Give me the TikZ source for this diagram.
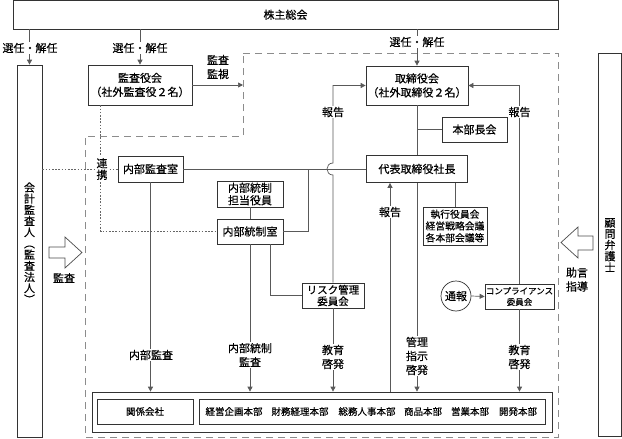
\documentclass[tikz,border=0pt]{standalone}
\usepackage{fontspec}
\setmainfont{Noto Sans CJK JP}[FakeBold=0.35]
\usetikzlibrary{arrows.meta}
\begin{document}
\begin{tikzpicture}[x=1pt,y=-1pt,
  box/.style={draw=black!80, line width=0.7pt, fill=white, inner sep=0pt, align=center, font=\fontsize{11}{14}\selectfont},
  conn/.style={draw=black!65, line width=0.7pt},
  arr/.style={conn, -{Triangle[length=5pt,width=5pt]}},
  dotl/.style={draw=black!60, line width=0.7pt, dash pattern=on 1.6pt off 1.6pt},
  lab/.style={fill=white, inner sep=1pt, align=center, font=\fontsize{11}{14}\selectfont},
  vtext/.style={inner sep=0pt, align=center, font=\fontsize{11}{11.2}\selectfont},
  small/.style={inner sep=0pt, font=\fontsize{9.5}{11}\selectfont},
  blockarrow/.style={draw=black!70, line width=0.7pt, fill=white}
]
\useasboundingbox (0,0) rectangle (622,439);

% dashed company boundary
\draw[draw=black!45, line width=0.9pt, dash pattern=on 7pt off 5pt]
  (243,53) -- (558,53) -- (558,437) -- (85,437) -- (85,136) -- (243,136) -- cycle;

% nodes
\node[box, minimum width=545pt, minimum height=28.5pt] (kabu) at (285.5,14.75) {株主総会};
\node[box, minimum width=25pt, minimum height=372pt] (kaikei) at (29.5,251) {};
\node[vtext] (kaikeit) at (29.5,243) {会\\計\\監\\査\\人\\︵\\監\\査\\法\\人\\︶};
\node[box, minimum width=104pt, minimum height=40pt] (kansayaku) at (140,85) {監査役会\\（社外監査役２名）};
\node[box, minimum width=102pt, minimum height=39pt] (tori) at (417,85.5) {取締役会\\（社外取締役２名）};
\node[box, minimum width=65pt, minimum height=25pt] (honbucho) at (474.5,129.5) {本部長会};
\node[box, minimum width=101pt, minimum height=27pt] (shacho) at (417,169) {代表取締役社長};
\node[box, minimum width=65pt, minimum height=26pt] (naibukansa) at (150.5,169) {内部監査室};
\node[box, minimum width=66pt, minimum height=26pt, font=\fontsize{11}{12.5}\selectfont] (tantou) at (250,194) {内部統制\\担当役員};
\node[box, minimum width=66pt, minimum height=25pt] (toseishitsu) at (250,231.5) {内部統制室};
\node[box, minimum width=62pt, minimum height=25pt, font=\fontsize{10.5}{11.5}\selectfont] (risk) at (333,295.5) {リスク管理\\委員会};
\node[box, minimum width=64pt, minimum height=38pt, font=\fontsize{9.8}{11.8}\selectfont] (shikko) at (455,226) {執行役員会\\経営戦略会議\\各本部会議等};
\node[draw=black!80, line width=0.7pt, fill=white, circle, minimum size=30pt, inner sep=0pt, font=\fontsize{11}{14}\selectfont] (tsuho) at (456,296) {通報};
\node[box, minimum width=69pt, minimum height=25pt, font=\fontsize{8.5}{11}\selectfont] (comp) at (519.5,296.5) {コンプライアンス\\委員会};
\node[box, minimum width=460pt, minimum height=40pt] (bottom) at (322,412) {};
\node[box, minimum width=96pt, minimum height=25pt] (kankei) at (145,411.5) {};
\node[small] (kankeit) at (145,411.5) {関係会社};
\node[box, minimum width=346pt, minimum height=25pt] (honbu) at (372,411.5) {};
\node[small] (h1) at (234,411.5) {経営企画本部};
\node[small] (h2) at (300,411.5) {財務経理本部};
\node[small] (h3) at (367,411.5) {総務人事本部};
\node[small] (h4) at (423,411.5) {商品本部};
\node[small] (h5) at (470,411.5) {営業本部};
\node[small] (h6) at (518,411.5) {開発本部};
\node[box, minimum width=23.5pt, minimum height=383pt] (komon) at (609.75,244.5) {};
\node[vtext] (komont) at (610,245) {顧\\問\\弁\\護\\士};

% block arrows
\draw[blockarrow] (49,247) -- (65,247) -- (65,237) -- (82,252.5) -- (65,268) -- (65,258) -- (49,258) -- cycle;
\draw[blockarrow] (593,236) -- (578,236) -- (578,227) -- (561,242.5) -- (578,258) -- (578,250) -- (593,250) -- cycle;

% connectors from shareholders meeting
\draw[arr] (kaikei.north |- kabu.south) -- (kaikei.north);
\draw[arr] (kansayaku.north |- kabu.south) -- (kansayaku.north);
\draw[arr] (tori.north |- kabu.south) -- (tori.north);

% audit supervision
\coordinate (dashl) at (243,85);
\draw[arr] (kansayaku.east) -- (dashl);

% board structure
\draw[conn] (tori.south) -- (shacho.north);
\draw[conn] (honbucho.west -| tori.south) -- (honbucho.west);
\draw[conn] (naibukansa.east) -- (shacho.west);
\coordinate (br) at (308,169);
\draw[conn] (br) |- (toseishitsu.east);
\draw[conn] (tantou.south) -- (toseishitsu.north);
\coordinate (rk) at (270,0);
\draw[conn] (toseishitsu.south -| rk) |- (risk.west);
\draw[conn] (shikko.north |- shacho.south) -- (shikko.north);
\draw[arr] (tsuho.east) -- (comp.west);

% reports with hop
\coordinate (hopB) at (333,175);
\coordinate (hopT) at (333,163);
\draw[arr] (risk.north) -- (hopB) .. controls +(-8,0) and +(-8,0) .. (hopT) |- (tori.west);
\draw[arr] (comp.north) |- (tori.east);
\coordinate (rep) at (390,0);
\draw[arr] (bottom.north -| rep) -- (shacho.south -| rep);

% arrows to divisions
\draw[arr] (naibukansa.south) -- (naibukansa.south |- bottom.north);
\draw[arr] (toseishitsu.south) -- (toseishitsu.south |- bottom.north);
\draw[arr] (risk.south) -- (risk.south |- bottom.north);
\draw[arr] (shacho.south) -- (shacho.south |- bottom.north);
\draw[arr] (comp.south) -- (comp.south |- bottom.north);

% dotted cooperation lines
\draw[dotl] (naibukansa.west -| kaikei.east) -- (naibukansa.west);
\draw[dotl] ([xshift=13pt]kansayaku.south west) |- (toseishitsu.west);

% labels
\node[lab] (l1) at (30,48) {選任・解任};
\node[lab] (l2) at (140,48) {選任・解任};
\node[lab] (l3) at (417,42) {選任・解任};
\node[lab] (l4) at (218,67) {監査\\監視};
\node[lab] (l5) at (333,112) {報告};
\node[lab] (l6) at (519.5,112) {報告};
\node[lab, font=\fontsize{11}{11.5}\selectfont] (l7) at (102,169) {連\\携};
\node[lab] (l8) at (390,212) {報告};
\node[lab] (l9) at (64,278) {監査};
\node[lab] (l10) at (577,279.5) {助言\\指導};
\node[lab] (l11) at (151,355) {内部監査};
\node[lab] (l12) at (250,355) {内部統制\\監査};
\node[lab] (l13) at (333,357) {教育\\啓発};
\node[lab] (l14) at (417,356) {管理\\指示\\啓発};
\node[lab] (l15) at (519.5,357) {教育\\啓発};
\end{tikzpicture}
\end{document}
